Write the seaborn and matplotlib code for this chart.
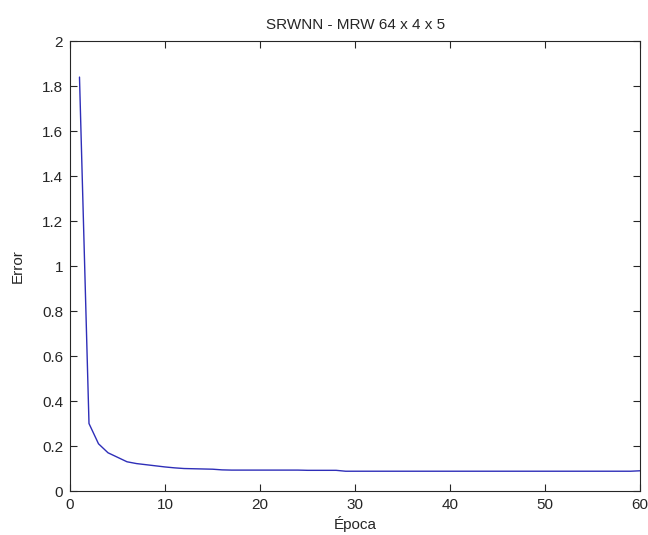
import numpy as np
import pandas as pd
import matplotlib
matplotlib.use('Agg')
import matplotlib.pyplot as plt
import seaborn as sns

# Training error per epoch
epochs = list(range(1, 61))
error = [1.84, 0.30, 0.21, 0.17, 0.150, 0.130, 0.122, 0.117, 0.112, 0.107,
         0.103, 0.100, 0.099, 0.098, 0.097, 0.094, 0.093, 0.093, 0.093, 0.093,
         0.093, 0.093, 0.093, 0.093, 0.092, 0.092, 0.092, 0.092, 0.088, 0.088,
         0.088, 0.088, 0.088, 0.088, 0.088, 0.088, 0.088, 0.088, 0.088, 0.088,
         0.088, 0.088, 0.088, 0.088, 0.088, 0.088, 0.088, 0.088, 0.088, 0.088,
         0.088, 0.088, 0.088, 0.088, 0.088, 0.088, 0.088, 0.088, 0.088, 0.090]
x_ticks = [0, 10, 20, 30, 40, 50, 60]
y_ticks = [0, 0.2, 0.4, 0.6, 0.8, 1, 1.2, 1.4, 1.6, 1.8, 2]
y_tick_labels = ['0', '0.2', '0.4', '0.6', '0.8', '1', '1.2', '1.4', '1.6', '1.8', '2']

sns.set_style('ticks')
plt.rcParams['font.family'] = ['Liberation Sans', 'DejaVu Sans']

df = pd.DataFrame({'epoch': epochs, 'error': error})

fig = plt.figure(figsize=(6.48, 5.35), dpi=100)
ax = fig.add_axes([0.108, 0.0822, 0.88, 0.841])
sns.lineplot(data=df, x='epoch', y='error', color='#2e2eb8', lw=1.0, ax=ax)

ax.set_xlim(0, 60)
ax.set_ylim(0, 2)
ax.set_xticks(x_ticks)
ax.set_yticks(y_ticks)
ax.set_yticklabels(y_tick_labels)
ax.tick_params(direction='in', length=5, width=0.8, colors='#262626',
               labelsize=11, top=True, right=True, labelcolor='#262626', pad=5)
for s in ax.spines.values():
    s.set_linewidth(0.8)
    s.set_color('#262626')

ax.set_xlabel('Época', fontsize=11, color='#262626')
ax.set_ylabel('Error', fontsize=11, color='#262626')
ax.xaxis.set_label_coords(0.5, -0.073)
ax.yaxis.set_label_coords(-0.091, 0.5)
ax.xaxis.label.set_va('center')
ax.yaxis.label.set_va('center')
ax.set_title('SRWNN - MRW 64 x 4 x 5', fontsize=11, color='#262626', pad=9)

fig.savefig('out.png', dpi=100)
